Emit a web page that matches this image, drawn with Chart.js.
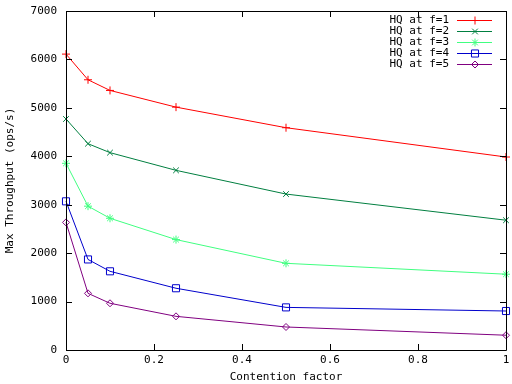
<!DOCTYPE html>
<html>
<head>
<meta charset="utf-8">
<script src="https://cdn.jsdelivr.net/npm/chart.js@4.4.1/dist/chart.umd.min.js"></script>
<style>
  html, body { margin: 0; padding: 0; background: #fff; }
  #wrap { width: 512px; height: 384px; }
</style>
</head>
<body>
<div id="wrap"><canvas id="grafico"></canvas></div>
<script>
const contention = [0, 0.05, 0.1, 0.25, 0.5, 1];
const serieF1 = [6110, 5580, 5360, 5015, 4590, 3985];
const serieF2 = [4770, 4260, 4075, 3710, 3220, 2680];
const serieF3 = [3855, 2970, 2720, 2280, 1790, 1565];
const serieF4 = [3070, 1870, 1625, 1275, 880, 805];
const serieF5 = [2635, 1170, 965, 695, 475, 305];
const legendas = ['HQ at f=1', 'HQ at f=2', 'HQ at f=3', 'HQ at f=4', 'HQ at f=5'];
const cores = ['#ff0000', '#007f40', '#40ff80', '#0000cc', '#800080'];
const marcadores = ['cross', 'crossRot', 'star', 'rect', 'rectRot'];
const raios = [4, 4, 4, 5, 3.5];

const FONTE = '"DejaVu Sans Mono", "Liberation Mono", monospace';

function pontos(valores) {
    return contention.map((x, i) => ({ x: x, y: valores[i] }));
}

const series = [serieF1, serieF2, serieF3, serieF4, serieF5];

// moldura, marcas para dentro (estilo gnuplot) e legenda
const molduraGnuplot = {
    id: 'molduraGnuplot',
    afterDraw(chart) {
        const { ctx, chartArea: a, scales } = chart;
        ctx.save();
        ctx.strokeStyle = '#000';
        ctx.lineWidth = 1;
        ctx.beginPath();
        ctx.rect(Math.round(a.left) + 0.5, Math.round(a.top) + 0.5,
                 Math.round(a.right - a.left), Math.round(a.bottom - a.top));
        ctx.stroke();

        const t = 6;
        ctx.beginPath();
        scales.x.ticks.forEach(tk => {
            const px = Math.round(scales.x.getPixelForValue(tk.value)) + 0.5;
            ctx.moveTo(px, a.bottom); ctx.lineTo(px, a.bottom - t);
            ctx.moveTo(px, a.top); ctx.lineTo(px, a.top + t);
        });
        scales.y.ticks.forEach(tk => {
            const py = Math.round(scales.y.getPixelForValue(tk.value)) + 0.5;
            ctx.moveTo(a.left, py); ctx.lineTo(a.left + t, py);
            ctx.moveTo(a.right, py); ctx.lineTo(a.right - t, py);
        });
        ctx.stroke();

        // legenda
        ctx.font = '11px ' + FONTE;
        ctx.textAlign = 'right';
        ctx.textBaseline = 'middle';
        chart.data.datasets.forEach((ds, i) => {
            const y = 20 + i * 11;
            ctx.fillStyle = '#000';
            ctx.fillText(ds.label, 449, y);
            ctx.strokeStyle = ds.borderColor;
            ctx.beginPath();
            ctx.moveTo(457, y + 0.5); ctx.lineTo(492, y + 0.5);
            ctx.stroke();
            if (Chart.helpers && Chart.helpers.drawPoint) {
                ctx.fillStyle = 'rgba(0,0,0,0)';
                Chart.helpers.drawPoint(ctx, {
                    pointStyle: ds.pointStyle,
                    radius: ds.pointRadius,
                    borderWidth: 1,
                    rotation: 0
                }, 475, y + 0.5);
            }
        });
        ctx.restore();
    }
};

document.addEventListener('DOMContentLoaded', function () {
    const ctx = document.getElementById('grafico');
    new Chart(ctx, {
        type: 'line',
        data: {
            datasets: series.map((s, i) => ({
                label: legendas[i],
                data: pontos(s),
                borderColor: cores[i],
                backgroundColor: 'rgba(0,0,0,0)',
                borderWidth: 1,
                pointStyle: marcadores[i],
                pointRadius: raios[i],
                pointBorderColor: cores[i],
                pointBackgroundColor: 'rgba(0,0,0,0)',
                pointBorderWidth: 1,
                tension: 0,
                fill: false,
                clip: false
            }))
        },
        options: {
            responsive: true,
            maintainAspectRatio: false,
            animation: false,
            layout: { padding: { top: 11, right: 5, left: 0, bottom: 0 } },
            plugins: {
                legend: { display: false },
                tooltip: { enabled: false }
            },
            scales: {
                x: {
                    type: 'linear',
                    min: 0,
                    max: 1,
                    grid: { display: false, drawTicks: false },
                    border: { display: false },
                    ticks: {
                        stepSize: 0.2,
                        padding: 4,
                        color: '#000',
                        font: { family: FONTE, size: 11 },
                        maxRotation: 0,
                        callback: v => String(Math.round(v * 10) / 10)
                    },
                    title: {
                        display: true,
                        text: 'Contention factor',
                        color: '#000',
                        font: { family: FONTE, size: 11 },
                        padding: { top: 4, bottom: 0 }
                    },
                    afterFit: s => { s.height = 34; s.paddingLeft = 0; s.paddingRight = 0; }
                },
                y: {
                    min: 0,
                    max: 7000,
                    grid: { display: false, drawTicks: false },
                    border: { display: false },
                    ticks: {
                        stepSize: 1000,
                        padding: 9,
                        color: '#000',
                        font: { family: FONTE, size: 11 },
                        callback: v => String(v)
                    },
                    title: {
                        display: true,
                        text: 'Max Throughput (ops/s)',
                        color: '#000',
                        font: { family: FONTE, size: 11 },
                        padding: { top: 4, bottom: 0 }
                    },
                    afterFit: s => { s.width = 66; s.paddingTop = 0; s.paddingBottom = 0; }
                }
            }
        },
        plugins: [molduraGnuplot]
    });
});
</script>
</body>
</html>
